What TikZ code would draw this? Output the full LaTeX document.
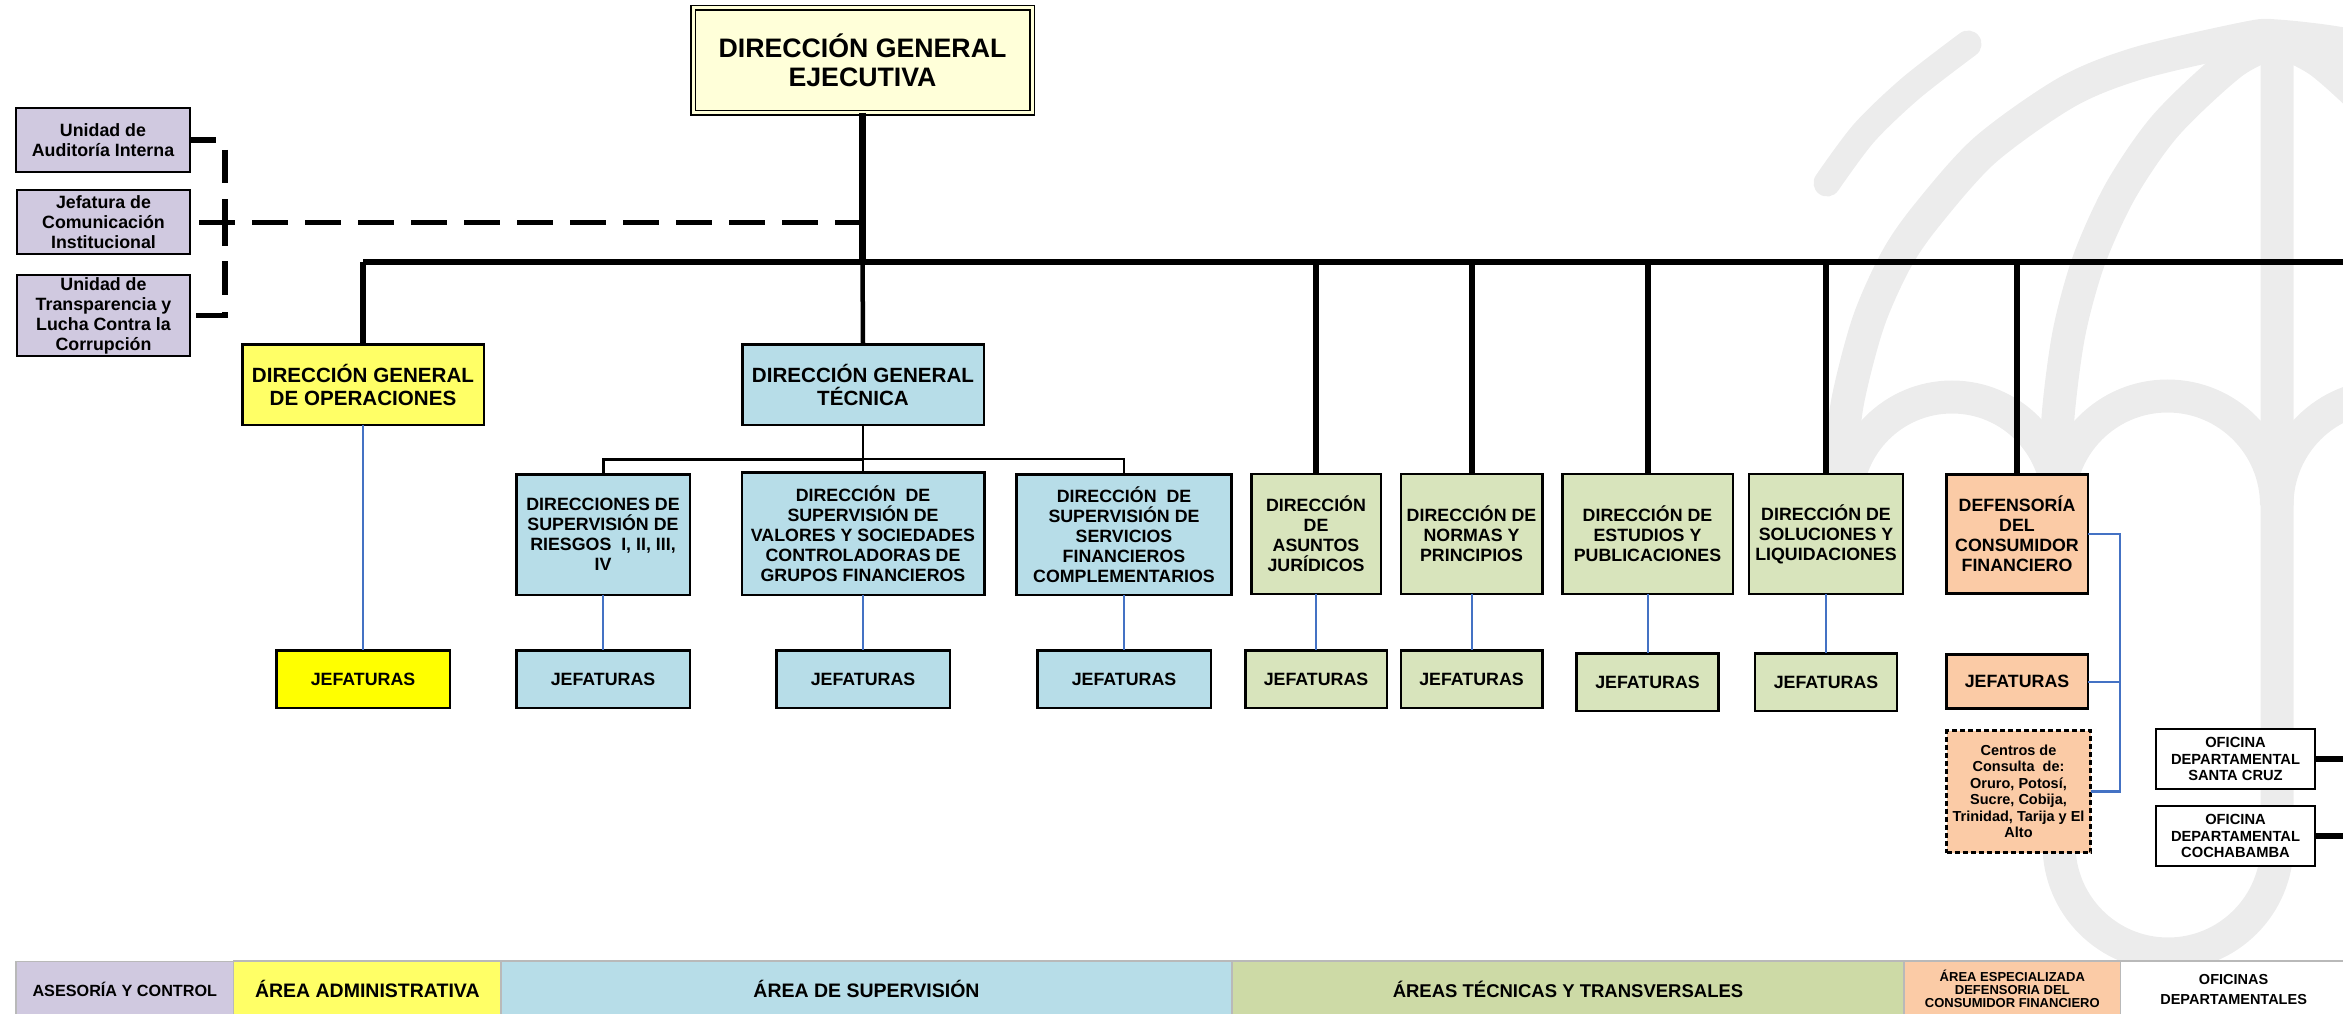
\documentclass[tikz,border=0pt]{standalone}
\usepackage{fontspec}
\setmainfont{Liberation Sans}
\usetikzlibrary{arrows}
\usetikzlibrary{positioning}

\definecolor{asesoria}{HTML}{D0C9E0}
\definecolor{operaciones}{HTML}{FFFF66}
\definecolor{jefop}{RGB}{255,255,0}
\definecolor{supervision}{HTML}{B7DDE8}
\definecolor{tecnica}{HTML}{D8E4BC}
\definecolor{tecnicaband}{HTML}{CDDAA6}
\definecolor{defensoria}{HTML}{FBCBA6}
\definecolor{ejecutiva}{HTML}{FFFFD9}
\definecolor{wmark}{HTML}{ECECEC}
\definecolor{enlace}{HTML}{4472C4}

\tikzset{
  orgbox/.style={draw=black, line width=2.5, outer sep=0, inner sep=0, align=center,
    font=\fontsize{17.8}{20}\selectfont\bfseries},
  areabox/.style={draw=gray!55, line width=1.5, outer sep=0, inner sep=0, align=center,
    minimum height=56},
  oficina/.style={orgbox, line width=2, fill=white, minimum width=159, minimum height=60,
    font=\fontsize{14.7}{16.2}\selectfont\bfseries},
  wm/.style={draw=wmark, line width=33},
  trunk/.style={line width=6},
  link/.style={draw=enlace, line width=2}
}

\begin{document}
\begin{tikzpicture}[x=1pt,y=-1pt]

	\useasboundingbox (0,0) rectangle (2343,1014);
	\clip (0,0) rectangle (2343,1014);

	\draw [wm, line width=27, line cap=round] plot [smooth] coordinates {(1827,183) (1864,133) (1911,88) (1968,44)};
	\draw [wm] plot [smooth] coordinates {(1840,480) (1847,405) (1868,323) (1896,260) (1927,215) (1985,150) (2067,92) (2139,63) (2247,38) (2277,36) (2343,44) (2420,63)};
	\draw [wm] plot [smooth] coordinates {(2058,480) (2058,417) (2069,333) (2089,260) (2121,190) (2166,125) (2232,63) (2277,40)};
	\draw [wm] plot [smooth] coordinates {(2277,40) (2322,63) (2388,125) (2440,190)};
	\draw [wm] (2277,36) -- (2277,845) arc (0:180:109) -- (2059,735);
	\draw [wm] (1846,503) arc (180:360:106);
	\draw [wm] (2058.5,505) arc (180:360:109);
	\draw [wm] (2277,505) arc (180:360:109);


	\node [orgbox, fill=ejecutiva, double=ejecutiva, line width=1.5, double distance=3, minimum width=339, minimum height=105,
		font=\fontsize{26.7}{29}\selectfont\bfseries] (dge) at (862.5,60.5) {DIRECCIÓN GENERAL\\EJECUTIVA};

	\node [orgbox, line width=2.2, fill=asesoria, minimum width=174, minimum height=64] (uai) at (103,140) {Unidad de\\Auditoría Interna};
	\node [orgbox, line width=2.2, fill=asesoria, minimum width=173, minimum height=64] (jci) at (103.5,222) {Jefatura de\\Comunicación\\Institucional};
	\node [orgbox, line width=2.2, fill=asesoria, minimum width=173, minimum height=81] (utl) at (103.5,315.5) {Unidad de\\Transparencia y\\Lucha Contra la\\Corrupción};

	\node [orgbox, fill=operaciones, minimum width=241.5, minimum height=80.5,
		font=\fontsize{20.6}{23}\selectfont\bfseries] (dgo) at (363,384.5) {DIRECCIÓN GENERAL\\DE OPERACIONES};
	\node [orgbox, fill=supervision, minimum width=241.5, minimum height=80.5,
		font=\fontsize{20.6}{23}\selectfont\bfseries] (dgt) at (863,384.5) {DIRECCIÓN GENERAL\\TÉCNICA};

	\node [orgbox, fill=supervision, minimum width=173.5, minimum height=120.5] (driesgos) at (603,534.5) {DIRECCIONES DE\\SUPERVISIÓN DE\\RIESGOS~~I, II, III,\\IV};
	\node [orgbox, fill=supervision, minimum width=242.5, minimum height=122.5] (dvalores) at (863,533.5) {DIRECCIÓN~~DE\\SUPERVISIÓN DE\\VALORES Y SOCIEDADES\\CONTROLADORAS DE\\GRUPOS FINANCIEROS};
	\node [orgbox, fill=supervision, minimum width=215, minimum height=120.5] (dservicios) at (1124,534.5) {DIRECCIÓN~~DE\\SUPERVISIÓN DE\\SERVICIOS\\FINANCIEROS\\COMPLEMENTARIOS};
	\node [orgbox, fill=tecnica, minimum width=129.5, minimum height=120] (dasuntos) at (1316,534) {DIRECCIÓN\\DE\\ASUNTOS\\JURÍDICOS};
	\node [orgbox, fill=tecnica, minimum width=141.5, minimum height=120] (dnormas) at (1471.5,534) {DIRECCIÓN DE\\NORMAS Y\\PRINCIPIOS};
	\node [orgbox, fill=tecnica, minimum width=170.5, minimum height=120] (destudios) at (1647.5,534) {DIRECCIÓN DE\\ESTUDIOS Y\\PUBLICACIONES};
	\node [orgbox, fill=tecnica, minimum width=154, minimum height=120] (dsoluciones) at (1826,534) {DIRECCIÓN DE\\SOLUCIONES Y\\LIQUIDACIONES};
	\node [orgbox, fill=defensoria, minimum width=141.5, minimum height=119] (ddcf) at (2017,534) {DEFENSORÍA\\DEL\\CONSUMIDOR\\FINANCIERO};

	\node [orgbox, fill=jefop, minimum width=173.5, minimum height=57.5] (jop) at (363,679) {JEFATURAS};
	\node [orgbox, fill=supervision, minimum width=173.5, minimum height=57.5] (jriesgos) at (603,679) {JEFATURAS};
	\node [orgbox, fill=supervision, minimum width=173.5, minimum height=57.5] (jvalores) at (863,679) {JEFATURAS};
	\node [orgbox, fill=supervision, minimum width=173.5, minimum height=57.5] (jservicios) at (1124,679) {JEFATURAS};
	\node [orgbox, fill=tecnica, minimum width=141.5, minimum height=57.5] (jasuntos) at (1316,679) {JEFATURAS};
	\node [orgbox, fill=tecnica, minimum width=141.5, minimum height=57.5] (jnormas) at (1471.5,679) {JEFATURAS};
	\node [orgbox, fill=tecnica, minimum width=142, minimum height=57.5] (jestudios) at (1647.5,682) {JEFATURAS};
	\node [orgbox, fill=tecnica, minimum width=142, minimum height=57.5] (jsoluciones) at (1826,682) {JEFATURAS};
	\node [orgbox, fill=defensoria, minimum width=141.5, minimum height=54] (jdcf) at (2017,681.5) {JEFATURAS};

	\node [orgbox, fill=defensoria, line width=3, dash pattern=on 5 off 3, minimum width=144, minimum height=122,
		font=\fontsize{14.5}{16.5}\selectfont\bfseries] (centros) at (2018.5,791.5) {Centros de\\Consulta~~de:\\Oruro, Potosí,\\Sucre, Cobija,\\Trinidad, Tarija y El\\Alto};

	\node [oficina] (ofsc) at (2235.5,759) {OFICINA\\DEPARTAMENTAL\\SANTA CRUZ};
	\node [oficina] (ofcb) at (2235.5,836) {OFICINA\\DEPARTAMENTAL\\COCHABAMBA};


	\node [areabox, fill=asesoria, minimum width=217.5, font=\fontsize{16.2}{18}\selectfont\bfseries] (aasesoria) at (124.8,989.5) {ASESORÍA Y CONTROL};
	\node [areabox, fill=operaciones, minimum width=267.5, font=\fontsize{19.5}{22}\selectfont\bfseries] (aadmin) at (367.3,989) {ÁREA ADMINISTRATIVA};
	\node [areabox, fill=supervision, minimum width=731, font=\fontsize{19.5}{22}\selectfont\bfseries] (asuperv) at (866.5,989) {ÁREA DE SUPERVISIÓN};
	\node [areabox, fill=tecnicaband, minimum width=672, font=\fontsize{18.5}{22}\selectfont\bfseries] (atecnica) at (1568,989) {ÁREAS TÉCNICAS Y TRANSVERSALES};
	\node [areabox, fill=defensoria, minimum width=216.5, font=\fontsize{13}{13}\selectfont\bfseries] (adefensoria) at (2012.3,989) {ÁREA ESPECIALIZADA\\DEFENSORIA DEL\\CONSUMIDOR FINANCIERO};
	\node [areabox, fill=white, minimum width=226, font=\fontsize{14.5}{20}\selectfont\bfseries] (aoficinas) at (2233.6,989) {OFICINAS\\DEPARTAMENTALES};


	\coordinate (busl) at (363,262);
	\coordinate (busr) at (2343,262);
	\coordinate (sup) at (863,459);
	\coordinate (brk) at (2120,534);
	\coordinate (dashv) at (225,223);

	\draw [line width=6.5] (busl) -- (busr);
	\draw [line width=7] (dge.south) -- (dge.south |- busl);
	\draw [line width=4.5] (dge.south |- busl) -- (dgt.north);
	\draw [trunk] (dgo.north) -- (dgo.north |- busl);
	\draw [trunk] (dasuntos.north) -- (dasuntos.north |- busl);
	\draw [trunk] (dnormas.north) -- (dnormas.north |- busl);
	\draw [trunk] (destudios.north) -- (destudios.north |- busl);
	\draw [trunk] (dsoluciones.north) -- (dsoluciones.north |- busl);
	\draw [trunk] (ddcf.north) -- (ddcf.north |- busl);
	\draw [trunk] (ofsc.east) -- (ofsc.east -| busr);
	\draw [trunk] (ofcb.east) -- (ofcb.east -| busr);

	\draw [line width=2.5] (dgt.south) -- (sup);
	\draw [line width=3] (driesgos.north) |- (sup);
	\draw [line width=2] (dservicios.north) |- (sup);
	\draw [line width=2] (sup) -- (dvalores.north);

	\draw [line width=5, dash pattern=on 36 off 17, dash phase=44] (jci.east) -- (jci.east -| dge.south);
	\draw [line width=5.5, dash pattern=on 26 off 19 on 33 off 16 on 47 off 15 on 34 off 17 on 33 off 20] (uai.east) -| (dashv) |- (utl.east);

	\draw [link] (dgo.south) -- (jop.north);
	\draw [link] (driesgos.south) -- (jriesgos.north);
	\draw [link] (dvalores.south) -- (jvalores.north);
	\draw [link] (dservicios.south) -- (jservicios.north);
	\draw [link] (dasuntos.south) -- (jasuntos.north);
	\draw [link] (dnormas.south) -- (jnormas.north);
	\draw [link] (destudios.south) -- (jestudios.north);
	\draw [link] (dsoluciones.south) -- (jsoluciones.north);
	\draw [link, line width=2.5] (ddcf.east) -- (brk) |- (centros.east);
	\draw [link] (jdcf.east) -- (jdcf.east -| brk);

\end{tikzpicture}
\end{document}
